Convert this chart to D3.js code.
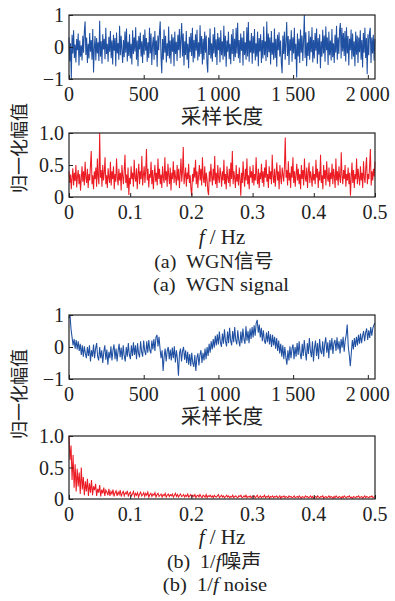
<!DOCTYPE html>
<html>
<head>
<meta charset="utf-8">
<script src="https://cdn.jsdelivr.net/npm/d3@7"></script>
<style>
  body { margin: 0; background: #fff; }
  text { font-family: 'Liberation Serif', 'Times New Roman', 'Noto Sans CJK SC', serif; fill: #222; }
</style>
</head>
<body>
<div id="chart"></div>
<script>
// WGN time signal (sampled along 0..2048)
const wgnSignal = [
  .3,-.45,.12,-1.0,.38,-.2,.52,-.34,.08,-.48,.25,-.1,.42,-.58,.2,-.3,.05,-.42,.35,-.18,
  .48,.8,-.25,.3,-.5,.1,-.36,.44,-.15,.22,-.4,.56,-.8,-.05,.34,-.42,.28,-.2,.15,-.44,
  .82,-.3,.18,-.52,.4,-.08,.26,-.38,.6,-.22,.1,-.46,.32,-.15,.5,-.35,.2,-.55,.38,-.12,
  .28,-.6,.45,-.2,.12,-.4,.66,-.26,.35,-.1,-.5,.22,-.32,.48,-.18,.58,-.45,.16,-.28,.4,
  -.36,.1,-.55,.52,-.22,.3,-.14,.62,-.4,.2,-.6,.34,-.08,.45,-.3,.18,-.5,.38,-.24,.55,
  -.12,.28,-.46,.15,-.34,.6,-.2,.42,-.56,.08,.32,-.4,.5,-.25,.2,-.62,.36,-.1,.46,.8,
  -.3,-.82,.25,-.4,.55,-.18,.35,-.48,.12,-.28,.64,-.36,.2,-.52,.4,-.15,.3,-.6,.48,-.22,
  .16,-.44,.38,-.1,.56,-.34,.26,.75,-.3,.42,-.58,.18,-.25,.5,-.4,.1,-.66,.32,-.16,.44,
  -.28,.6,-.48,.22,-.35,.4,-.12,.54,-.42,.15,-.3,.68,-.22,.34,-.55,.26,-.4,.48,-.18,.36,
  -.5,-.8,.3,-.25,.58,-.36,.12,-.46,.4,-.2,.62,-.32,.24,-.56,.44,-.1,.3,-.48,.52,-.26,
  .18,-.4,.66,-.3,.35,-.62,.2,-.15,.48,-.38,.1,-.54,.4,-.22,.56,-.44,.26,-.32,.6,-.2,
  .76,-.35,.22,-.5,.42,-.12,.3,-.58,.5,-.25,.15,-.4,.62,-.3,.78,-.46,.2,-.18,.44,-.52,
  .34,-.2,.56,-.42,.12,-.3,.48,-.6,.28,-.14,.4,-.5,.22,-.36,.64,-.26,.18,-.44,.8,-.32,
  .42,-.16,.3,-.55,.5,-.24,.14,-.4,.58,-.34,.26,-.62,.38,-.1,.46,-.3,.2,-.5,-.82,.36,
  -.22,.48,-.4,.16,.78,-.28,.34,-.56,.24,-.12,.52,-.46,.3,-.2,.6,-.38,.1,-.95,.42,-.3,
  .26,-.5,.55,-.18,.36,-.44,.2,1.0,-.34,.46,-.6,.14,-.28,.5,-.4,.32,-.16,.62,-.48,.22,
  -.36,.44,-.12,.58,-.52,.28,-.24,.4,-.66,.18,-.3,.54,-.2,.36,-.46,.64,-.1,.3,-.56,.48,
  -.26,.2,-.42,.56,-.32,.12,-.5,.38,-.18,.66,-.4,.3,-.22,.52,.75,-.36,.6,-.14,.44,-.28,
  .5,-.45,.62,-.2,.34,-.58,.26,-.1,.55,-.38,.42,-.3,.18,-.6,.48,-.24,.36,-.5,.3,-.16,
  .52,-.4,.22,-.64,.44,-.18,.6,-.34,.28,-.85,.4,-.26,.46,.6,-.5,.3,-.2,.38,-.42,.25
];
// WGN normalised spectrum (0..0.5 Hz)
const wgnSpectrum = [
  .4,.22,.35,.12,.3,.45,.18,.38,.25,.5,.15,.32,.42,.2,.36,.1,.28,.48,.24,.4,
  .18,.55,.3,.22,.44,.14,.36,.26,.5,.72,.2,.34,.12,.4,.28,.46,.16,.6,.3,.2,
  1.0,.3,.42,.16,.5,.26,.38,.62,.2,.34,.14,.45,.3,.22,.55,.18,.4,.28,.48,.12,
  .36,.24,.6,.3,.18,.44,.26,.38,.1,.5,.32,.2,.42,.66,.22,.35,.14,.46,.03,.3,
  .2,.48,.28,.38,.16,.58,.3,.24,.45,.12,.36,.52,.2,.4,.28,.64,.18,.34,.48,.22,
  .4,.75,.26,.44,.15,.36,.3,.55,.2,.42,.12,.32,.5,.24,.38,.18,.6,.28,.44,.2,
  .35,.14,.48,.3,.22,.62,.26,.4,.16,.52,.34,.2,.46,.1,.38,.28,.56,.22,.42,.3,
  .18,.5,.26,.44,.14,.36,.6,.24,.4,.78,.2,.32,.46,.16,.38,.28,.52,.22,.34,.12,
  .02,.36,.24,.46,.3,.58,.2,.4,.14,.34,.5,.26,.44,.18,.62,.3,.22,.48,.16,.38,
  .28,.1,.03,.4,.24,.52,.32,.18,.44,.26,.64,.2,.38,.14,.5,.3,.22,.46,.34,.16,
  .4,.26,.58,.2,.36,.12,.48,.3,.22,.44,.16,.54,.28,.72,.2,.4,.3,.14,.5,.24,
  .36,.18,.46,.28,.02,.38,.22,.56,.3,.16,.44,.26,.6,.2,.34,.12,.48,.3,.4,.22,
  .5,.18,.36,.26,.62,.3,.2,.44,.14,.38,.28,.52,.22,.4,.16,.46,.3,.58,.24,.36,
  .14,.48,.28,.4,.2,.66,.32,.22,.44,.16,.36,.54,.26,.4,.12,.5,.3,.2,.46,.34,
  .24,.5,.93,.3,.42,.18,.56,.26,.38,.14,.48,.3,.62,.22,.4,.16,.34,.52,.26,.44,
  .2,.36,.12,.5,.28,.42,.18,.6,.3,.24,.46,.14,.38,.54,.22,.4,.3,.16,.48,.26,
  .36,.2,.58,.3,.44,.14,.4,.26,.66,.22,.34,.12,.5,.28,.42,.18,.56,.3,.24,.46,
  .16,.38,.28,.52,.2,.44,.32,.14,.6,.26,.4,.18,.48,.3,.22,.7,.34,.2,.42,.28,
  .5,.16,.36,.26,.46,.2,.38,.02,.3,.54,.22,.42,.14,.36,.28,.6,.2,.44,.3,.18,
  .48,.26,.38,.14,.56,.3,.22,.46,.62,.2,.36,.28,.5,.75,.18,.4,.26,.44,.32,.55
];
// 1/f noise time signal
const pinkSignal = [
  .9,1.0,.55,.3,.05,.25,-.05,.22,-.08,.18,-.12,.1,-.25,.05,-.3,.02,-.2,-.35,.0,-.28,
  .05,-.45,-.1,-.3,.08,-.35,-.05,.12,-.3,-.42,.0,-.35,-.1,-.5,-.15,.05,-.4,-.08,-.55,-.15,
  -.35,.02,-.42,-.1,.08,-.38,-.05,-.45,-.12,.1,-.32,-.02,-.4,.05,-.28,-.45,.0,-.3,.12,-.25,
  -.38,.05,-.28,.15,-.25,.05,-.38,.12,-.2,-.32,.18,-.15,-.3,.2,-.12,-.25,.18,-.18,.22,-.1,
  -.2,.2,-.08,.25,-.12,.3,.38,.02,.32,-.05,-.35,-.1,-.75,-.3,-.05,-.45,-.12,.0,-.38,-.08,
  -.42,-.02,-.35,.02,-.48,-.1,-.38,-.9,-.2,-.05,-.45,-.12,.0,-.4,-.1,-.5,-.15,-.55,-.22,-.6,
  -.18,-.5,-.62,-.25,-.75,-.35,-.2,-.58,-.25,-.1,-.5,-.18,-.42,-.05,-.38,.0,-.28,.1,-.18,.18,
  -.08,.25,-.02,.35,.05,.4,.08,.48,.15,.0,.42,.1,.55,.18,.02,.48,.12,.6,.2,.05,
  .5,.15,.62,.22,.08,.52,.2,.02,.48,.12,.58,.25,.1,.65,.2,.5,.12,.58,.25,.62,
  .3,.68,.35,.75,.85,.45,.7,.3,.6,.18,.52,.2,.1,.45,.15,.5,.08,.4,.0,.38,
  .05,.32,-.05,.28,-.12,.2,-.2,.1,-.3,.05,-.38,.0,-.32,-.55,-.1,-.42,.02,-.35,-.05,.08,
  -.38,.0,-.3,.12,-.25,.18,-.2,-.38,.1,-.28,.22,-.15,-.42,.12,-.22,.28,-.12,-.32,.18,-.45,
  -.02,.2,-.28,.12,-.38,.25,-.12,-.22,.18,-.3,.1,.3,-.18,.15,-.35,.22,-.1,.28,-.22,.12,
  .22,-.12,.3,-.08,.18,-.2,.25,-.02,.32,-.15,.2,.38,.7,.02,-.25,-.6,-.18,.22,-.08,.28,
  .0,.32,.05,.38,.1,.42,.12,.35,.5,.18,.45,.58,.22,.52,.28,.62,.35,.58,.68,.75
];
// 1/f noise normalised spectrum
const pinkSpectrum = [
  1.0,.62,.85,.3,.7,.18,.55,.12,.48,.2,.42,.08,.5,.15,.35,.06,.28,.12,.32,.05,
  .25,.1,.3,.06,.2,.14,.24,.05,.16,.1,.22,.04,.15,.09,.18,.05,.14,.11,.06,.16,
  .05,.12,.08,.15,.04,.1,.13,.05,.11,.07,.14,.04,.09,.12,.05,.1,.08,.13,.04,.09,
  .11,.05,.08,.12,.04,.09,.06,.1,.03,.08,.11,.05,.07,.1,.04,.09,.06,.11,.03,.07,
  .09,.04,.08,.06,.1,.03,.07,.09,.04,.06,.08,.03,.07,.05,.09,.03,.06,.08,.04,.07,
  .05,.08,.03,.06,.09,.04,.07,.03,.06,.08,.04,.05,.07,.03,.06,.04,.08,.03,.05,.07,
  .03,.06,.04,.07,.02,.05,.06,.03,.07,.04,.02,.06,.05,.03,.07,.02,.05,.04,.06,.03,
  .05,.02,.06,.04,.03,.05,.07,.02,.04,.06,.03,.05,.02,.04,.06,.03,.05,.02,.04,.03,
  .06,.02,.04,.05,.03,.02,.05,.04,.06,.02,.03,.05,.03,.06,.02,.04,.03,.05,.02,.04,
  .03,.05,.02,.04,.06,.02,.03,.05,.02,.04,.03,.06,.02,.04,.03,.05,.01,.04,.03,.05,
  .02,.04,.03,.05,.02,.03,.05,.01,.04,.03,.05,.02,.04,.03,.02,.05,.03,.04,.02,.03,
  .05,.02,.03,.04,.02,.05,.03,.01,.04,.03,.02,.05,.03,.04,.02,.03,.05,.02,.04,.01,
  .03,.04,.02,.05,.03,.02,.04,.03,.05,.01,.03,.04,.02,.03,.05,.02,.04,.03,.01,.04,
  .02,.05,.03,.02,.04,.03,.01,.04,.02,.05,.03,.02,.04,.03,.05,.02,.03,.01,.04,.03,
  .02,.04,.03,.05,.02,.03,.04,.01,.03,.05,.02,.04,.03,.02,.04,.03,.05,.02,.03,.04
];

const timeTicks = [0, 500, 1000, 1500, 2000];
const freqTicks = [0, 0.1, 0.2, 0.3, 0.4, 0.5];
const ampTicks = [-1, 0, 1];
const specTicks = [0, 0.5, 1];

const W = 395, H = 601;
const left = 69, right = 375;

const svg = d3.select('#chart').append('svg')
  .attr('width', W).attr('height', H);
svg.append('rect').attr('width', W).attr('height', H).attr('fill', '#fff');

const fmtTime = d => d >= 1000 ? d3.format(',')(d).replace(',', '\u2009') : String(d);
const fmtFreq = d => d === 0 ? '0' : d3.format('.1f')(d);
const fmtAmp = d => d < 0 ? '\u2212' + Math.abs(d) : String(d);

// text placed at (x, y) with a horizontal stretch
function txt(parent, x, y, anchor, size, sx) {
  return parent.append('text')
    .attr('transform', 'translate(' + x + ',' + y + ') scale(' + sx + ',1)')
    .attr('text-anchor', anchor)
    .style('font-size', size + 'px');
}

function drawPanel(top, bottom, values, xMax, xDomain, yDomain, xTicks, yTicks, xFmt, yFmt, color) {
  const x = d3.scaleLinear().domain(xDomain).range([left, right]);
  const y = d3.scaleLinear().domain(yDomain).range([bottom, top]);
  const g = svg.append('g');
  const n = values.length;

  g.append('path')
    .datum(values)
    .attr('fill', 'none')
    .attr('stroke', color)
    .attr('stroke-width', 1.05)
    .attr('d', d3.line()
      .x((d, i) => x(i * xMax / (n - 1)))
      .y(d => y(d)));

  // inward ticks, matlab style
  g.append('g')
    .attr('transform', 'translate(0,' + bottom + ')')
    .call(d3.axisTop(x).tickValues(xTicks).tickSize(4).tickFormat(''))
    .call(a => a.select('.domain').remove())
    .selectAll('line').attr('stroke', '#222');
  g.append('g')
    .attr('transform', 'translate(' + left + ',0)')
    .call(d3.axisRight(y).tickValues(yTicks).tickSize(4).tickFormat(''))
    .call(a => a.select('.domain').remove())
    .selectAll('line').attr('stroke', '#222');

  g.append('rect')
    .attr('x', left).attr('y', top)
    .attr('width', right - left).attr('height', bottom - top)
    .attr('fill', 'none').attr('stroke', '#222').attr('stroke-width', 1.2);

  xTicks.forEach(d => txt(g, x(d), bottom + 22, 'middle', 20, 1).text(xFmt(d)));
  yTicks.forEach(d => txt(g, left - 5, y(d) + 7, 'end', 20, 1).text(yFmt(d)));
}

drawPanel(15, 79, wgnSignal, 2047, [0, 2048], [-1, 1], timeTicks, ampTicks, fmtTime, fmtAmp, '#1f50a2');
drawPanel(133, 197, wgnSpectrum, 0.5, [0, 0.5], [0, 1], freqTicks, specTicks, fmtFreq, fmtFreq, '#ec1c24');
drawPanel(315, 379, pinkSignal, 2047, [0, 2048], [-1, 1], timeTicks, ampTicks, fmtTime, fmtAmp, '#1f50a2');
drawPanel(436, 499, pinkSpectrum, 0.5, [0, 0.5], [0, 1], freqTicks, specTicks, fmtFreq, fmtFreq, '#ec1c24');

// axis titles
[124, 424].forEach(yy => txt(svg, 222, yy, 'middle', 20, 1.03).text('采样长度'));

[244, 544].forEach(yy => {
  const t = txt(svg, 222, yy, 'middle', 20, 1.05);
  t.append('tspan').style('font-style', 'italic').text('f');
  t.append('tspan').text('\u00a0/ Hz');
});

[148, 394].forEach(yy => svg.append('text')
  .attr('transform', 'translate(26,' + yy + ') rotate(-90)')
  .attr('text-anchor', 'middle')
  .style('font-size', '18px')
  .text('归一化幅值'));

// captions
txt(svg, 214, 268, 'middle', 19, 1.05).text('(a)\u00a0\u00a0WGN信号');
txt(svg, 221, 291, 'middle', 19, 1.08).text('(a)\u00a0\u00a0WGN signal');

const cap1 = txt(svg, 214, 568, 'middle', 19, 1.05);
cap1.append('tspan').text('(b)\u00a0\u00a01/');
cap1.append('tspan').style('font-style', 'italic').text('f');
cap1.append('tspan').text('噪声');
const cap2 = txt(svg, 215, 591, 'middle', 19, 1.08);
cap2.append('tspan').text('(b)\u00a0\u00a01/');
cap2.append('tspan').style('font-style', 'italic').text('f');
cap2.append('tspan').text('\u00a0noise');
</script>
</body>
</html>
